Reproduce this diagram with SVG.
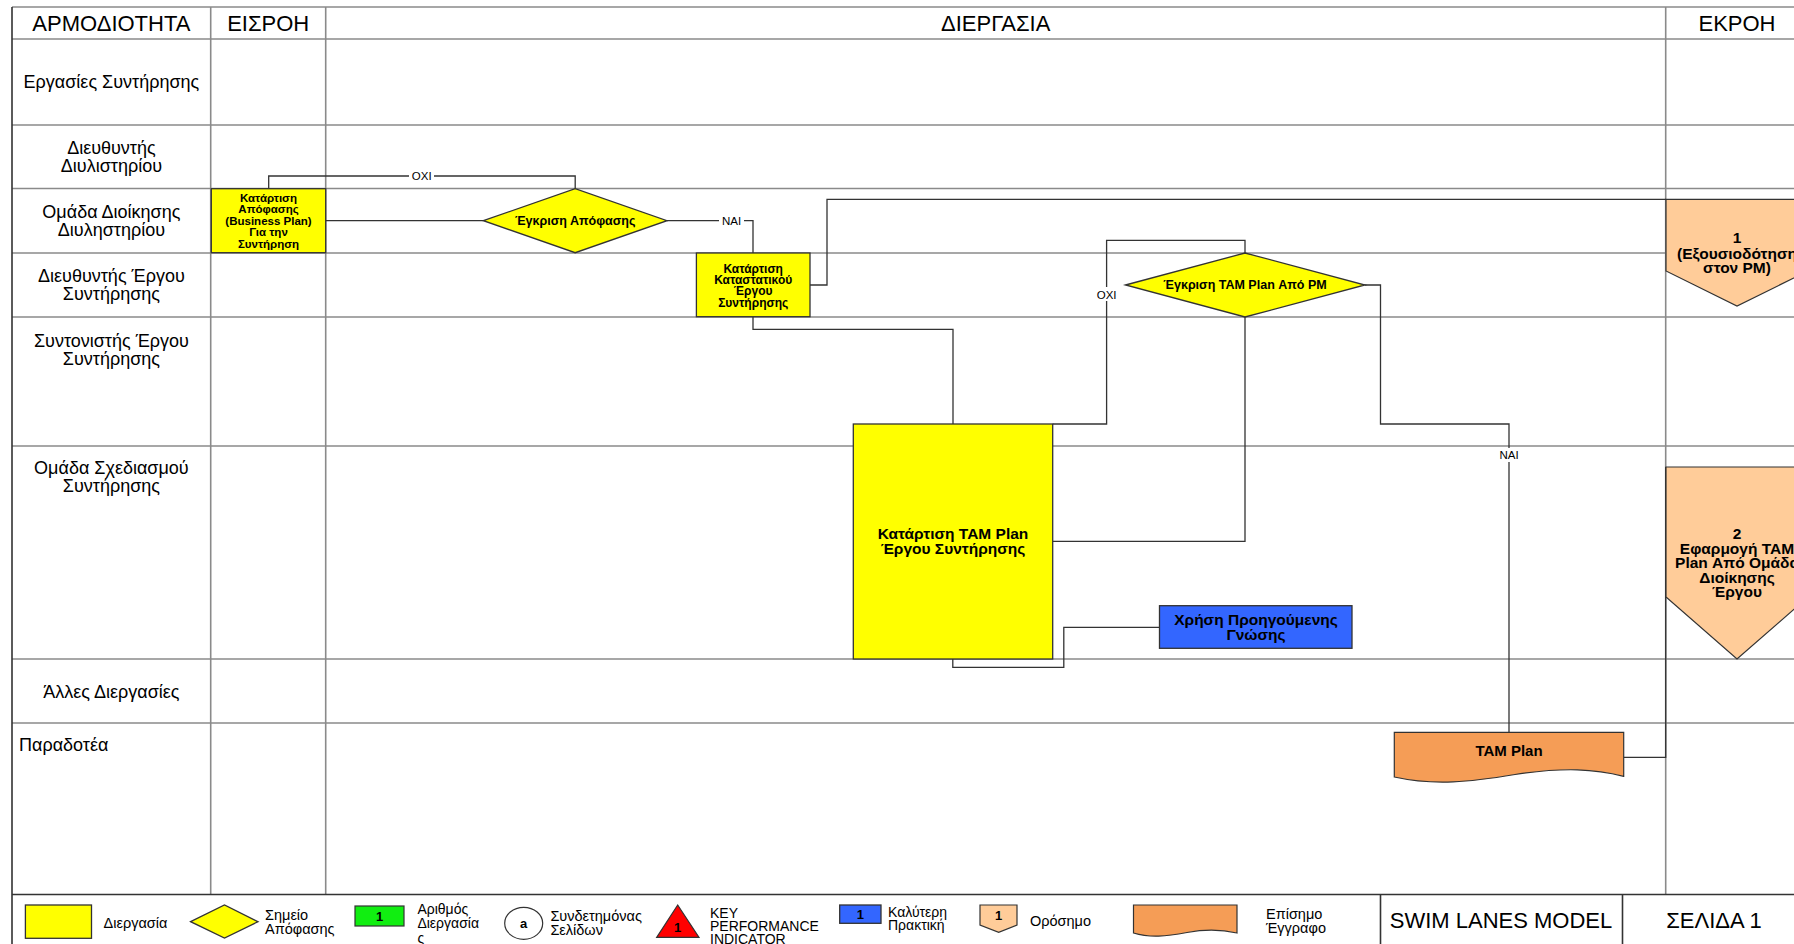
<svg xmlns="http://www.w3.org/2000/svg" width="1794" height="944" viewBox="0 0 1794 944">
  <style>
    text { font-family: "Liberation Sans", Arial, sans-serif; fill: #000; }
    .hdr { font-size: 22px; text-anchor: middle; }
    .lane { font-size: 18px; text-anchor: middle; }
    .lane-l { font-size: 18px; text-anchor: start; }
    .grid { stroke: #8a8a8a; stroke-width: 1.6; fill: none; }
    .frame { stroke: #333; stroke-width: 1.6; fill: none; }
    .conn { stroke: #333; stroke-width: 1.3; fill: none; }
    .proc { fill: #ffff00; stroke: #333; stroke-width: 1.3; }
    .best { fill: #3366ff; stroke: #333; stroke-width: 1.3; }
    .mile { fill: #ffcc99; stroke: #333; stroke-width: 1.2; }
    .doc { fill: #f59d56; stroke: #333; stroke-width: 1.2; }
    .nt { font-weight: bold; text-anchor: middle; }
    .lbl { font-size: 11.5px; text-anchor: middle; }
    .leg { font-size: 14.5px; }
    .leg-s { font-size: 14px; }
    .foot { font-size: 22px; text-anchor: middle; }
  </style>

  <rect width="1794" height="944" fill="#fff"/>

  <!-- swim lane grid -->
  <g id="lanes">
    <path class="grid" d="M12,7 H1794 M12,39 H1794 M12,125 H1794 M12,188.5 H1794 M12,253 H1794 M12,317 H1794 M12,446 H1794 M12,659 H1794 M12,723 H1794"/>
    <path class="grid" d="M210.7,7 V894 M325.7,7 V894 M1665.7,7 V894"/>
    <path class="frame" d="M12,7 V944 M12,894.5 H1794 M1380.5,894.5 V944 M1622.5,894.5 V944"/>
    <text class="hdr" x="111.4" y="30.5">ΑΡΜΟΔΙΟΤΗΤΑ</text>
    <text class="hdr" x="268.2" y="30.5">ΕΙΣΡΟΗ</text>
    <text class="hdr" x="995.7" y="30.5">ΔΙΕΡΓΑΣΙΑ</text>
    <text class="hdr" x="1737" y="30.5">ΕΚΡΟΗ</text>
    <text class="lane" x="111.4" y="88">Εργασίες Συντήρησης</text>
    <text class="lane" x="111.4" y="153.5">Διευθυντής</text>
    <text class="lane" x="111.4" y="171.5">Διυλιστηρίου</text>
    <text class="lane" x="111.4" y="218">Ομάδα Διοίκησης</text>
    <text class="lane" x="111.4" y="236">Διυληστηρίου</text>
    <text class="lane" x="111.4" y="282">Διευθυντής Έργου</text>
    <text class="lane" x="111.4" y="300">Συντήρησης</text>
    <text class="lane" x="111.4" y="346.5">Συντονιστής Έργου</text>
    <text class="lane" x="111.4" y="364.5">Συντήρησης</text>
    <text class="lane" x="111.4" y="474">Ομάδα Σχεδιασμού</text>
    <text class="lane" x="111.4" y="492">Συντήρησης</text>
    <text class="lane" x="111.4" y="698">Άλλες Διεργασίες</text>
    <text class="lane-l" x="19" y="750.5">Παραδοτέα</text>
  </g>

  <!-- connectors -->
  <g id="connectors">
    <path class="conn" d="M325.7,220.7 H483.4"/>
    <path class="conn" d="M575.2,188.7 V176 H268.7 V188.7"/>
    <path class="conn" d="M667,220.7 H753 V253"/>
    <path class="conn" d="M810,285 H827 V199.3 H1666"/>
    <path class="conn" d="M753,317 V329.3 H953 V424"/>
    <path class="conn" d="M1052.7,541.3 H1245 V317"/>
    <path class="conn" d="M1245,253 V240.3 H1106.6 V424 H1052.7"/>
    <path class="conn" d="M1365,285 H1380.5 V424 H1509 V732.3"/>
    <path class="conn" d="M1623.7,757.3 H1665.7 V467"/>
    <path class="conn" d="M1159.5,627.3 H1063.8 V667.3 H952.8 V659"/>
    <rect x="409" y="169" width="25" height="14" fill="#fff"/>
    <text class="lbl" x="421.7" y="180">OXI</text>
    <rect x="719" y="214" width="25" height="14" fill="#fff"/>
    <text class="lbl" x="731.6" y="225">NAI</text>
    <rect x="1094" y="287" width="25" height="14" fill="#fff"/>
    <text class="lbl" x="1106.6" y="298.5">OXI</text>
    <rect x="1496" y="448" width="26" height="14" fill="#fff"/>
    <text class="lbl" x="1509" y="459">NAI</text>
  </g>

  <g id="n-business-plan">
    <rect class="proc" x="211.3" y="188.7" width="114.4" height="64"/>
    <g class="nt" font-size="11.5px">
      <text x="268.5" y="201.5">Κατάρτιση</text>
      <text x="268.5" y="213">Απόφασης</text>
      <text x="268.5" y="224.8">(Business Plan)</text>
      <text x="268.5" y="236">Για την</text>
      <text x="268.5" y="247.8">Συντήρηση</text>
    </g>
  </g>

  <g id="n-approve-decision">
    <polygon class="proc" points="483.4,220.7 575.2,188.7 667,220.7 575.2,252.7"/>
    <text class="nt" font-size="12.5px" x="575.2" y="225">Έγκριση Απόφασης</text>
  </g>

  <g id="n-charter">
    <rect class="proc" x="696.4" y="253" width="113.6" height="63.7"/>
    <g class="nt" font-size="12px">
      <text x="753.2" y="272.5">Κατάρτιση</text>
      <text x="753.2" y="283.5">Καταστατικού</text>
      <text x="753.2" y="295">Έργου</text>
      <text x="753.2" y="306.5">Συντήρησης</text>
    </g>
  </g>

  <g id="n-approve-tam">
    <polygon class="proc" points="1125.5,285 1245,253 1365,285 1245,317"/>
    <text class="nt" font-size="12.5px" x="1245" y="289.3">Έγκριση TAM Plan Από PM</text>
  </g>

  <g id="n-tam-plan">
    <rect class="proc" x="853.3" y="424" width="199.4" height="235"/>
    <g class="nt" font-size="15.5px">
      <text x="953" y="539">Κατάρτιση TAM Plan</text>
      <text x="953" y="553.5">Έργου Συντήρησης</text>
    </g>
  </g>

  <g id="n-prior-knowledge">
    <rect class="best" x="1159.5" y="605.7" width="192.5" height="42.6"/>
    <g class="nt" font-size="15.5px">
      <text x="1256" y="625">Χρήση Προηγούμενης</text>
      <text x="1256" y="639.5">Γνώσης</text>
    </g>
  </g>

  <g id="n-tam-doc">
    <path class="doc" d="M1394.3,732.3 H1623.7 V776.3 C1595,769 1565,767 1515,774.5 C1470,782 1435,786 1394.3,777 Z"/>
    <text class="nt" font-size="15px" x="1509" y="755.5">TAM Plan</text>
  </g>

  <g id="n-milestone-1">
    <polygon class="mile" points="1666,199.3 1808,199.3 1808,271 1737,306 1666,271"/>
    <g class="nt" font-size="15.5px">
      <text x="1737" y="243">1</text>
      <text x="1737" y="258.5">(Εξουσιοδότηση</text>
      <text x="1737" y="273">στον PM)</text>
    </g>
  </g>

  <g id="n-milestone-2">
    <polygon class="mile" points="1666,467 1808,467 1808,597 1737,659 1666,597"/>
    <g class="nt" font-size="15.5px">
      <text x="1737" y="539">2</text>
      <text x="1737" y="553.5">Εφαρμογή TAM</text>
      <text x="1737" y="568">Plan Από Ομάδα</text>
      <text x="1737" y="582.5">Διοίκησης</text>
      <text x="1737" y="597">Έργου</text>
    </g>
  </g>

  <!-- legend strip -->
  <g id="legend">
    <rect class="proc" x="25.4" y="905" width="66.1" height="33.3"/>
    <text class="leg" x="103.6" y="928">Διεργασία</text>

    <polygon class="proc" points="190.6,921.7 224.5,905 258,921.7 224.5,938"/>
    <text class="leg" x="265" y="920">Σημείο</text>
    <text class="leg" x="265" y="934">Απόφασης</text>

    <rect x="355" y="906" width="49" height="20" fill="#11ee11" stroke="#333" stroke-width="1.2"/>
    <text class="nt" font-size="13px" x="379.5" y="920.5">1</text>
    <text class="leg-s" x="417.4" y="914">Αριθμός</text>
    <text class="leg-s" x="417.4" y="928">Διεργασία</text>
    <text class="leg-s" x="417.4" y="943">ς</text>

    <ellipse cx="523.7" cy="923.3" rx="19" ry="16" fill="#fff" stroke="#333" stroke-width="1.2"/>
    <text class="nt" font-size="13px" x="523.7" y="928">a</text>
    <text class="leg" x="550.4" y="921">Συνδετημόνας</text>
    <text class="leg" x="550.4" y="934.5">Σελίδων</text>

    <polygon points="656.7,937.3 677.7,905 699,937.3" fill="#ff0000" stroke="#333" stroke-width="1.2"/>
    <text class="nt" font-size="13px" x="677.7" y="932">1</text>
    <text class="leg-s" x="710" y="917.5">KEY</text>
    <text class="leg-s" x="710" y="930.5">PERFORMANCE</text>
    <text class="leg-s" x="710" y="944">INDICATOR</text>

    <rect class="best" x="839.7" y="905" width="41.3" height="18.3"/>
    <text class="nt" font-size="13px" x="860.3" y="919">1</text>
    <text class="leg-s" x="888" y="916.5">Καλύτερη</text>
    <text class="leg-s" x="888" y="929.5">Πρακτική</text>

    <polygon class="mile" points="980,905 1017,905 1017,925 998.7,932.3 980,925"/>
    <text class="nt" font-size="13px" x="998.7" y="920">1</text>
    <text class="leg" x="1030" y="926">Ορόσημο</text>

    <path class="doc" d="M1133.5,905 H1237 V933 C1222,929.5 1205,929 1187,932.5 C1166,936.5 1150,938 1133.5,933 Z"/>
    <text class="leg" x="1266" y="919">Επίσημο</text>
    <text class="leg" x="1266" y="933">Έγγραφο</text>

    <text class="foot" x="1501" y="927.5">SWIM LANES MODEL</text>
    <text class="foot" x="1714" y="927.5">ΣΕΛΙΔΑ 1</text>
  </g>
</svg>
